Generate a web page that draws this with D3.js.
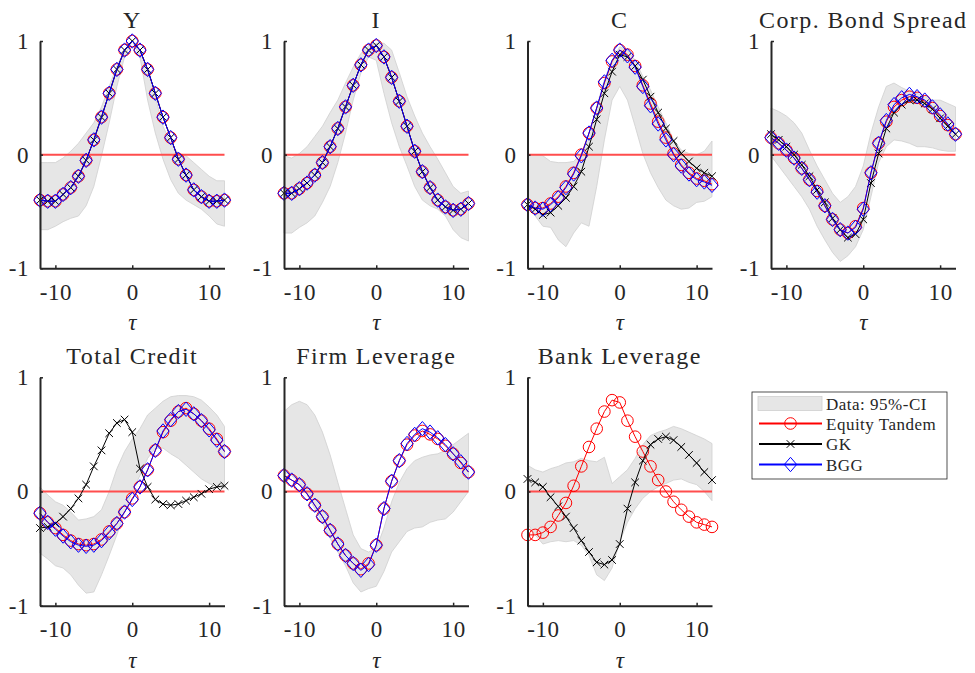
<!DOCTYPE html>
<html>
<head>
<meta charset="utf-8">
<script src="https://cdn.jsdelivr.net/npm/d3@7"></script>
<style>
  body { margin: 0; background: #fff; }
  svg text { font-family: 'Liberation Serif', serif; fill: #262626; }
</style>
</head>
<body>
<svg width="975" height="673"></svg>
<script>
// Lags / leads
const tau = d3.range(-12, 13);
const yTicks = [-1, 0, 1];
const xTicks = [-10, 0, 10];
const titles = ['Y', 'I', 'C', 'Corp. Bond Spread', 'Total Credit', 'Firm Leverage', 'Bank Leverage'];
const legendLabels = ['Data: 95%-CI', 'Equity Tandem', 'GK', 'BGG'];

// Y
const yHi = [-0.07, -0.07, -0.07, -0.03, 0.03, 0.10, 0.19, 0.28, 0.42, 0.60, 0.78, 0.92, 1.0, 0.92, 0.75, 0.51, 0.25, 0.10, 0.01, -0.01, -0.07, -0.13, -0.19, -0.23, -0.23];
const yLo = [-0.66, -0.66, -0.63, -0.59, -0.56, -0.54, -0.45, -0.28, -0.01, 0.28, 0.60, 0.86, 1.0, 0.86, 0.48, 0.19, -0.04, -0.22, -0.34, -0.40, -0.44, -0.48, -0.54, -0.61, -0.63];
const yET = [-0.40, -0.41, -0.41, -0.35, -0.29, -0.19, -0.05, 0.13, 0.33, 0.54, 0.75, 0.92, 1.0, 0.92, 0.75, 0.54, 0.33, 0.15, -0.04, -0.18, -0.31, -0.37, -0.41, -0.41, -0.40];
const yGK = yET;
const yBGG = yET;

// I
const iHi = [-0.01, -0.03, 0.01, 0.07, 0.16, 0.25, 0.37, 0.48, 0.63, 0.77, 0.89, 0.96, 0.98, 0.98, 0.92, 0.72, 0.51, 0.34, 0.19, 0.07, -0.04, -0.16, -0.28, -0.34, -0.32];
const iLo = [-0.69, -0.69, -0.64, -0.60, -0.54, -0.42, -0.28, -0.07, 0.19, 0.48, 0.72, 0.86, 0.83, 0.54, 0.28, 0.07, -0.10, -0.28, -0.40, -0.45, -0.48, -0.54, -0.66, -0.73, -0.76];
const iET = [-0.34, -0.34, -0.30, -0.25, -0.18, -0.07, 0.07, 0.23, 0.42, 0.61, 0.79, 0.92, 0.96, 0.86, 0.68, 0.47, 0.25, 0.03, -0.15, -0.29, -0.40, -0.46, -0.49, -0.48, -0.43];
const iGK = iET;
const iBGG = iET;

// C
const cHi = [0.0, 0.0, -0.01, -0.06, -0.07, -0.07, -0.06, 0.01, 0.19, 0.42, 0.66, 0.83, 0.95, 0.92, 0.83, 0.69, 0.57, 0.42, 0.28, 0.13, 0.04, 0.01, 0.0, 0.03, 0.12];
const cLo = [-0.47, -0.54, -0.63, -0.64, -0.75, -0.81, -0.69, -0.60, -0.63, -0.28, 0.13, 0.48, 0.60, 0.48, 0.25, 0.01, -0.16, -0.29, -0.40, -0.45, -0.48, -0.47, -0.42, -0.41, -0.37];
const cET = [-0.44, -0.47, -0.47, -0.43, -0.37, -0.28, -0.16, 0.0, 0.19, 0.41, 0.63, 0.82, 0.92, 0.88, 0.78, 0.61, 0.45, 0.29, 0.15, 0.01, -0.09, -0.16, -0.21, -0.23, -0.26];
const cGK = [-0.44, -0.48, -0.53, -0.51, -0.45, -0.38, -0.28, -0.15, 0.07, 0.31, 0.54, 0.73, 0.88, 0.86, 0.78, 0.66, 0.51, 0.37, 0.23, 0.12, 0.01, -0.06, -0.12, -0.16, -0.19];
const cBGG = [-0.44, -0.47, -0.48, -0.44, -0.38, -0.29, -0.17, -0.01, 0.19, 0.41, 0.64, 0.83, 0.92, 0.87, 0.77, 0.60, 0.43, 0.27, 0.13, 0.0, -0.10, -0.17, -0.22, -0.24, -0.27];

// Corp. Bond Spread
const sHi = [0.41, 0.38, 0.34, 0.28, 0.19, 0.04, -0.10, -0.22, -0.34, -0.42, -0.37, -0.28, -0.10, 0.19, 0.42, 0.60, 0.63, 0.59, 0.56, 0.54, 0.51, 0.48, 0.48, 0.45, 0.42];
const sLo = [-0.01, -0.10, -0.19, -0.28, -0.37, -0.48, -0.63, -0.75, -0.86, -0.94, -0.89, -0.81, -0.66, -0.37, -0.07, 0.07, 0.13, 0.12, 0.10, 0.07, 0.07, 0.06, 0.04, 0.03, 0.03];
const sET = [0.15, 0.10, 0.04, -0.03, -0.12, -0.22, -0.32, -0.45, -0.57, -0.66, -0.69, -0.63, -0.47, -0.16, 0.10, 0.29, 0.42, 0.48, 0.51, 0.50, 0.47, 0.41, 0.34, 0.26, 0.18];
const sGK = [0.18, 0.13, 0.07, 0.0, -0.09, -0.19, -0.31, -0.42, -0.56, -0.66, -0.73, -0.70, -0.57, -0.25, 0.01, 0.23, 0.37, 0.44, 0.48, 0.48, 0.45, 0.40, 0.32, 0.25, 0.18];
const sBGG = [0.15, 0.10, 0.04, -0.03, -0.12, -0.22, -0.33, -0.45, -0.57, -0.66, -0.69, -0.64, -0.48, -0.16, 0.10, 0.30, 0.44, 0.50, 0.53, 0.51, 0.48, 0.42, 0.35, 0.27, 0.18];

// Total Credit
const tHi = [0.04, -0.03, -0.09, -0.12, -0.18, -0.25, -0.24, -0.22, -0.16, 0.0, 0.20, 0.35, 0.46, 0.55, 0.67, 0.73, 0.79, 0.83, 0.84, 0.84, 0.83, 0.80, 0.74, 0.67, 0.57];
const tLo = [-0.54, -0.59, -0.65, -0.67, -0.73, -0.82, -0.89, -0.88, -0.73, -0.56, -0.38, -0.18, 0.0, 0.14, 0.29, 0.38, 0.38, 0.33, 0.29, 0.23, 0.17, 0.11, 0.07, 0.04, 0.03];
const tET = [-0.19, -0.27, -0.32, -0.38, -0.43, -0.46, -0.47, -0.46, -0.42, -0.35, -0.28, -0.18, -0.06, 0.04, 0.19, 0.36, 0.52, 0.62, 0.70, 0.73, 0.68, 0.62, 0.55, 0.46, 0.35];
const tGK = [-0.32, -0.31, -0.28, -0.22, -0.15, -0.06, 0.06, 0.22, 0.36, 0.51, 0.60, 0.63, 0.52, 0.20, 0.04, -0.07, -0.11, -0.12, -0.11, -0.08, -0.05, -0.02, 0.02, 0.04, 0.05];
const tBGG = [-0.19, -0.27, -0.33, -0.39, -0.44, -0.47, -0.48, -0.47, -0.43, -0.36, -0.28, -0.18, -0.07, 0.04, 0.19, 0.36, 0.53, 0.63, 0.70, 0.72, 0.68, 0.62, 0.54, 0.45, 0.35];

// Firm Leverage
const fHi = [0.70, 0.76, 0.79, 0.76, 0.67, 0.52, 0.32, 0.08, -0.15, -0.38, -0.50, -0.53, -0.50, -0.32, -0.09, 0.08, 0.20, 0.27, 0.30, 0.32, 0.33, 0.36, 0.41, 0.46, 0.51];
const fLo = [0.17, 0.14, 0.08, -0.03, -0.15, -0.27, -0.41, -0.53, -0.65, -0.80, -0.88, -0.85, -0.83, -0.70, -0.53, -0.44, -0.35, -0.32, -0.31, -0.27, -0.25, -0.24, -0.18, -0.09, 0.0];
const fET = [0.14, 0.10, 0.06, -0.02, -0.12, -0.22, -0.34, -0.46, -0.56, -0.63, -0.68, -0.63, -0.47, -0.15, 0.09, 0.27, 0.41, 0.49, 0.53, 0.50, 0.46, 0.40, 0.33, 0.25, 0.17];
const fBGG = [0.14, 0.10, 0.06, -0.02, -0.12, -0.22, -0.34, -0.46, -0.56, -0.63, -0.69, -0.64, -0.47, -0.15, 0.09, 0.27, 0.42, 0.50, 0.55, 0.52, 0.47, 0.41, 0.33, 0.26, 0.17];

// Bank Leverage
const bHi = [0.23, 0.19, 0.17, 0.20, 0.22, 0.25, 0.26, 0.29, 0.27, 0.26, 0.30, 0.07, 0.13, 0.19, 0.29, 0.41, 0.49, 0.52, 0.54, 0.57, 0.55, 0.52, 0.49, 0.46, 0.42];
const bLo = [-0.28, -0.38, -0.46, -0.44, -0.43, -0.44, -0.43, -0.47, -0.56, -0.73, -0.78, -0.67, -0.44, -0.27, -0.15, -0.06, 0.0, 0.04, 0.07, 0.10, 0.11, 0.08, 0.06, 0.0, -0.08];
const bET = [-0.38, -0.38, -0.36, -0.31, -0.21, -0.10, 0.05, 0.22, 0.39, 0.55, 0.70, 0.80, 0.78, 0.62, 0.48, 0.35, 0.22, 0.10, 0.0, -0.09, -0.16, -0.22, -0.27, -0.29, -0.31];
const bGK = [0.11, 0.08, 0.04, -0.05, -0.13, -0.22, -0.32, -0.43, -0.53, -0.62, -0.64, -0.60, -0.46, -0.15, 0.08, 0.27, 0.41, 0.46, 0.48, 0.45, 0.39, 0.32, 0.25, 0.17, 0.10];

const panels = [
  { hi: yHi, lo: yLo, et: yET, gk: yGK, bgg: yBGG },
  { hi: iHi, lo: iLo, et: iET, gk: iGK, bgg: iBGG },
  { hi: cHi, lo: cLo, et: cET, gk: cGK, bgg: cBGG },
  { hi: sHi, lo: sLo, et: sET, gk: sGK, bgg: sBGG },
  { hi: tHi, lo: tLo, et: tET, gk: tGK, bgg: tBGG },
  { hi: fHi, lo: fLo, et: fET, gk: null, bgg: fBGG },
  { hi: bHi, lo: bLo, et: bET, gk: bGK, bgg: null },
];

const svg = d3.select('svg');
const axisColor = '#262626';
const pw = 184.5;
const colX = [40, 284, 527.5, 771];
const rowY = [41, 377.3];
const ph = [227.3, 228.4];

const circle = (g, pts, color) =>
  g.selectAll(null).data(pts).enter().append('circle')
    .attr('cx', (d) => d[0]).attr('cy', (d) => d[1]).attr('r', 5.8)
    .attr('fill', 'none').attr('stroke', color).attr('stroke-width', 1);

const cross = (g, pts, color) =>
  g.selectAll(null).data(pts).enter().append('path')
    .attr('d', (d) => `M${d[0] - 3.8},${d[1] - 3.8}L${d[0] + 3.8},${d[1] + 3.8}M${d[0] - 3.8},${d[1] + 3.8}L${d[0] + 3.8},${d[1] - 3.8}`)
    .attr('stroke', color).attr('stroke-width', 1).attr('fill', 'none');

const diamond = (g, pts, color) =>
  g.selectAll(null).data(pts).enter().append('path')
    .attr('d', (d) => `M${d[0]},${d[1] - 7.2}L${d[0] + 6.2},${d[1]}L${d[0]},${d[1] + 7.2}L${d[0] - 6.2},${d[1]}Z`)
    .attr('stroke', color).attr('stroke-width', 1).attr('fill', 'none');

panels.forEach((p, i) => {
  const col = i % 4;
  const row = Math.floor(i / 4);
  const h = ph[row];
  const g = svg.append('g').attr('transform', `translate(${colX[col]},${rowY[row]})`);

  const x = d3.scaleLinear().domain([-12, 12]).range([0, pw]);
  const y = d3.scaleLinear().domain([-1, 1]).range([h, 0]);

  // CI band
  const area = d3.area()
    .x((d, k) => x(tau[k]))
    .y0((d, k) => y(p.lo[k]))
    .y1((d) => y(d));
  g.append('path')
    .attr('d', area(p.hi))
    .attr('fill', '#e6e6e6')
    .attr('stroke', '#cfcfcf')
    .attr('stroke-width', 0.8);

  // zero line
  g.append('line')
    .attr('x1', x(-12)).attr('x2', x(12))
    .attr('y1', y(0)).attr('y2', y(0))
    .attr('stroke', '#ff4d4d').attr('stroke-width', 2);

  const line = d3.line().x((d, k) => x(tau[k])).y((d) => y(d));
  const pts = (arr) => arr.map((v, k) => [x(tau[k]), y(v)]);

  g.append('path').attr('d', line(p.et)).attr('fill', 'none').attr('stroke', '#ff0000').attr('stroke-width', 1);
  circle(g, pts(p.et), '#ff0000');
  if (p.gk) {
    g.append('path').attr('d', line(p.gk)).attr('fill', 'none').attr('stroke', '#000').attr('stroke-width', 1);
    cross(g, pts(p.gk), '#000');
  }
  if (p.bgg) {
    g.append('path').attr('d', line(p.bgg)).attr('fill', 'none').attr('stroke', '#0000ff').attr('stroke-width', 1);
    diamond(g, pts(p.bgg), '#0000ff');
  }

  // axes
  const yAxis = g.append('g')
    .call(d3.axisLeft(y).tickValues(yTicks).tickFormat((d) => String(d))
      .tickSizeInner(-3).tickSizeOuter(0).tickPadding(11));
  const xAxis = g.append('g')
    .attr('transform', `translate(0,${h})`)
    .call(d3.axisBottom(x).tickValues(xTicks).tickFormat((d) => String(d))
      .tickSizeInner(-3).tickSizeOuter(0).tickPadding(15));
  [yAxis, xAxis].forEach((a) => {
    a.select('.domain').attr('stroke', axisColor).attr('stroke-width', 2);
    a.selectAll('.tick line').attr('stroke', axisColor).attr('stroke-width', 1.5);
    a.selectAll('.tick text').attr('fill', axisColor)
      .style('font-size', '23px').style('letter-spacing', '0.6px')
      .style('font-family', "'Liberation Serif', serif");
  });

  g.append('text')
    .attr('x', x(0)).attr('y', h + 62)
    .attr('text-anchor', 'middle')
    .style('font-size', '23px').style('font-style', 'italic')
    .text('τ');

  g.append('text')
    .attr('x', x(0)).attr('y', -13)
    .attr('text-anchor', 'middle')
    .style('font-size', '24px').style('letter-spacing', '1.4px')
    .text(titles[i]);
});

// Legend
const lg = svg.append('g').attr('transform', 'translate(752,392)');
lg.append('rect').attr('width', 195).attr('height', 87)
  .attr('fill', '#fff').attr('stroke', axisColor).attr('stroke-width', 0.8);
const rowsY = [11.5, 31.5, 52, 72.5];
lg.append('rect').attr('x', 6).attr('y', rowsY[0] - 7).attr('width', 64).attr('height', 14)
  .attr('fill', '#e6e6e6').attr('stroke', '#cfcfcf').attr('stroke-width', 0.8);
const sampleColors = ['#ff0000', '#000', '#0000ff'];
sampleColors.forEach((c, k) => {
  const yy = rowsY[k + 1];
  lg.append('line').attr('x1', 7).attr('x2', 70).attr('y1', yy).attr('y2', yy)
    .attr('stroke', c).attr('stroke-width', 1.8);
});
circle(lg, [[38.5, rowsY[1]]], '#ff0000');
cross(lg, [[38.5, rowsY[2]]], '#000');
diamond(lg, [[38.5, rowsY[3]]], '#0000ff');
legendLabels.forEach((t, k) => {
  lg.append('text').attr('x', 74).attr('y', rowsY[k] + 6)
    .style('font-size', '17px').style('letter-spacing', '0.5px').text(t);
});
</script>
</body>
</html>
